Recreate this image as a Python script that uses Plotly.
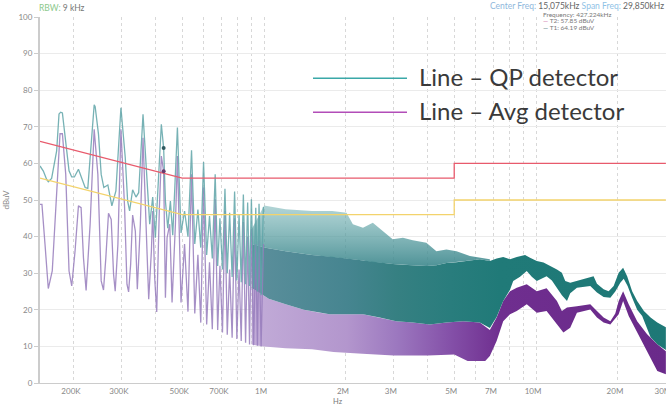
import math
import plotly.graph_objects as go

# ---------------- data (frequency in kHz, level in dBuV) ----------------
# QP detector trace, low-frequency part (individual harmonics)
qp_f = [150, 154.3, 158.7, 160.9, 165.5, 172.7, 176.2, 178.7, 181.3, 185.5, 191.8, 196.2, 200.7,
        207.7, 213.6, 219.8, 224.8, 229.3, 235.9, 237.3, 239.3, 246.1, 251.8, 257.5, 266.4, 275.6,
        285.2, 297.6, 308.7, 315.0, 320.3, 328.6, 338.1, 345.8, 358.8, 371.2, 379.7, 389.5, 398.3,
        419, 427.224, 433.7, 442.4, 452.4, 461.5, 480.1, 495, 510, 525, 541, 556, 571, 585, 599,
        615, 630, 645, 661, 675, 688, 703, 718, 732, 747, 763, 779, 794, 809, 824, 839, 855, 870,
        884, 898, 915, 932, 945, 958, 975, 994]
qp_v = [59.3, 57.9, 55.6, 55.0, 55.9, 63.4, 73.5, 74.0, 73.8, 67.0, 58.0, 56.3, 56.3,
        58.4, 56.0, 53.4, 53.2, 61.6, 75.5, 76.0, 75.5, 68.0, 57.0, 53.4, 54.1, 48.4,
        52.5, 75.2, 61.6, 49.7, 47.0, 52.8, 50.8, 52.0, 73.4, 54.3, 43.4, 50.8, 39.7,
        70.7, 64.19, 49.7, 42.3, 49.7, 40.4, 69.8, 41, 47, 40, 63.6, 38, 47.4, 37, 60.4,
        35, 45.6, 34, 57, 32, 45, 31, 53.1, 30, 46.5, 29, 52.3, 28, 46, 27.5, 51.5, 27, 49.3,
        26.5, 50.2, 26, 47.9, 25, 49, 24, 48.1]

# Average detector trace, low-frequency part
avg_f = [150, 152.5, 156.5, 160.9, 166.4, 172.7, 177.7, 181.3, 186.5, 191.8, 196.2, 201.8, 207.7,
         212.4, 216.7, 221.6, 229.3, 237.3, 244.8, 251.8, 256.8, 261.9, 267.9, 274.1, 279.6, 283.5,
         290.1, 297.6, 307.0, 313.2, 317.6, 323.1, 328.6, 336.2, 341.9, 350.8, 358.8, 368.1, 376.5,
         385.1, 389.5, 396.0, 402.9, 412.1, 419, 427.224, 433.7, 439.8, 449.9, 458.8, 472.0, 480.1,
         495, 510, 525, 541, 556, 571, 585, 599, 615, 630, 645, 661, 675, 688, 703, 718, 732, 747,
         763, 779, 794, 809, 824, 839, 855, 870, 884, 898, 915, 932, 945, 958, 975, 994]
avg_v = [48.8, 48.8, 37.9, 25.8, 30.6, 52.5, 68.1, 68.1, 57.0, 30.6, 26.5, 36.0, 48.4,
         47.9, 34.2, 25.3, 43.4, 69.3, 57.0, 27.9, 25.4, 34.2, 46.4, 44.7, 29.7, 25.1,
         37.9, 69.3, 47.9, 27.0, 24.9, 32.4, 45.9, 41.5, 25.6, 43.4, 67.0, 43.4, 22.9,
         36.0, 47.0, 28.8, 19.4, 47.9, 62.0, 57.85, 23.3, 39.7, 43.4, 22.0, 43.4, 62.0,
         22, 38, 19.5, 57, 19, 35, 16.5, 53.4, 16, 33, 14.7, 50.2, 14.5, 32, 13.8, 47, 13.2, 31,
         12.4, 45, 12, 31, 11.5, 44, 11, 40, 10.5, 42, 10.3, 38, 10.2, 39, 10, 38]

# QP dense region: spike tips and top of the dense core
qp_tip_f = [900, 1000, 1200, 1500, 1780, 2010, 2120, 2310, 2510, 2730, 2970, 3240, 3520, 3950,
            4300, 4680, 5100, 5710, 6210, 6760]
qp_tip_hi = [42, 48.5, 47.5, 47, 47, 46.5, 43.4, 42.4, 43.8, 41.5, 39.3, 39.7, 39, 38.3,
             36, 36.5, 36, 34.7, 34.2, 33.8]
qp_core_hi = [38, 37, 36, 35, 34.5, 34, 33.8, 33.5, 33, 32.8, 32.5, 32.3, 32.2, 32,
              32.2, 32.8, 33, 33.5, 33.8, 33.3]

# QP upper envelope above 7 MHz
qp_env_f = [7160, 7570, 8020, 8490, 9110, 9500, 10060, 10650, 11270, 11930, 12440, 12800, 13350,
            14130, 14950, 15820, 16270, 16740, 17710, 18480, 19280, 20120, 20890, 21620, 22550,
            23530, 24910, 26360, 27900, 30000]
qp_env_hi = [34, 34.4, 33.8, 34.4, 35, 34.2, 33.3, 32.9, 32, 31, 30.1, 27.9, 27.4,
             27.9, 28.3, 28.8, 29.2, 27.1, 25.6, 25.1, 26.5, 30.1, 31.5, 29.2, 25.1,
             22.4, 19.7, 17.9, 16.5, 15.2]

# QP lower envelope
qp_lo_f = [900, 1040, 1200, 1400, 1600, 1740, 2310, 2660, 3060, 3520, 4060, 4680, 5390, 6210,
           6760, 7160, 7570, 8020, 8240, 8730, 9240, 9640, 10060, 10500, 10930, 11430, 11930,
           12440, 12990, 13350, 14130, 15820, 16740, 17710, 18750, 19550, 20400, 21000, 21700,
           22550, 23530, 24550, 26360, 27900, 30000]
qp_lo = [26, 23, 21.5, 20, 19.2, 18.8, 18.8, 17.9, 16.9, 16.5, 16, 16.5, 16.9, 16.5,
         15, 18, 22.4, 25.5, 27.9, 29, 30.6, 29, 27.9, 28.5, 29.2, 28, 26,
         24, 22.4, 24.5, 26, 26.5, 24.7, 23.5, 23.3, 25, 27.4, 28.5, 26.5,
         23.3, 20, 18.3, 12.5, 10.6, 9.0]

# Average detector dense region: upper and lower envelopes
avg_hi_f = [900, 1040, 1200, 1400, 1600, 1740, 2310, 2660, 3060, 3520, 4060, 4680, 5390, 6210,
            6760, 7160, 7570, 8020, 8490, 9240, 10060, 10930, 11930, 12440, 12990, 14130, 15820,
            16740, 17710, 18750, 19550, 20120, 20890, 21900, 23530, 25600, 27900, 30000]
avg_hi = [26, 23, 21.5, 20, 19.2, 18.8, 18.8, 17.9, 16.9, 16.5, 16, 16.5, 16.9, 16.5,
          14.5, 17.9, 22.4, 25.1, 26, 27, 25.1, 25.9, 22.4, 19.7, 20.6, 21, 21.5,
          19.7, 17.9, 16.9, 19, 22.4, 25.1, 21.5, 16.9, 13.3, 10.6, 8.7]
avg_lo_f = [900, 1000, 1200, 1500, 1800, 2300, 3000, 4000, 5000, 5600, 6500, 6760, 7160, 7570,
            8020, 8490, 9240, 10060, 10930, 11930, 12600, 13350, 14130, 15820, 16740, 17710,
            18750, 20120, 20890, 21900, 24200, 26360, 27900, 30000]
avg_lo = [10.5, 10, 9.5, 9.2, 8.5, 8, 7.5, 7.5, 7.8, 6, 6, 7.4, 11.5, 16.9,
          18.8, 19.7, 21.5, 19.2, 19.7, 16, 13.8, 15.1, 19.2, 20.1, 17.9, 16.5,
          16, 18.8, 22.4, 18.3, 12.4, 6.9, 3.3, 2.4]

# Limit lines
limit_f = [150, 500, 5000, 5000, 30000]
qp_limit = [66, 56, 56, 60, 60]
avg_limit = [56, 46, 46, 50, 50]

# Markers
marker_f = [427.224]
marker_t1 = [64.19]
marker_t2 = [57.85]

# Axis ticks
x_tick_vals = [200, 300, 400, 500, 600, 700, 800, 900, 1000, 2000, 3000, 4000, 5000, 6000,
               7000, 8000, 9000, 10000, 20000, 30000]
x_tick_text = ['200K', '300K', '', '500K', '', '700K', '', '', '1M', '2M', '3M', '', '5M', '',
               '7M', '', '', '10M', '20M', '30M']
y_tick_vals = [0, 10, 20, 30, 40, 50, 60, 70, 80, 90, 100]

# ---------------- figure ----------------
fig = go.Figure()

# Average detector dense band
fig.add_trace(go.Scatter(
    x=avg_hi_f + avg_lo_f[::-1], y=avg_hi + avg_lo[::-1],
    mode='lines', line=dict(width=0), fill='toself',
    fillgradient=dict(type='horizontal', colorscale=[
        [0, '#c2acd8'], [0.23, '#b396cd'], [0.35, '#9c78bf'], [0.48, '#8450a8'],
        [0.6, '#6f2e8f'], [1, '#6a2a8a']]),
    hoverinfo='skip'))

# QP dense core band
core_f = qp_tip_f + qp_env_f
core_hi = qp_core_hi + qp_env_hi
fig.add_trace(go.Scatter(
    x=core_f + qp_lo_f[::-1], y=core_hi + qp_lo[::-1],
    mode='lines', line=dict(width=0), fill='toself',
    fillgradient=dict(type='horizontal', colorscale=[
        [0, '#5c8f9c'], [0.23, '#468590'], [0.35, '#368082'], [0.48, '#297d7d'],
        [0.6, '#207a78'], [1, '#1e7876']]),
    hoverinfo='skip'))

# QP spike tips band
fig.add_trace(go.Scatter(
    x=qp_tip_f + qp_tip_f[::-1], y=qp_tip_hi + qp_core_hi[::-1],
    mode='lines', line=dict(width=0), fill='toself',
    fillgradient=dict(type='vertical', colorscale=[
        [0, 'rgba(60,135,140,0.9)'], [1, 'rgba(115,178,180,0.55)']]),
    hoverinfo='skip'))

# Average detector line
fig.add_trace(go.Scatter(x=avg_f, y=avg_v, mode='lines',
                         line=dict(color='rgba(150,125,188,0.85)', width=1.3)))
# QP detector line
fig.add_trace(go.Scatter(x=qp_f, y=qp_v, mode='lines',
                         line=dict(color='rgba(95,165,168,0.85)', width=1.3)))

# Limits
fig.add_trace(go.Scatter(x=limit_f, y=qp_limit, mode='lines',
                         line=dict(color='#e85a6c', width=1.3)))
fig.add_trace(go.Scatter(x=limit_f, y=avg_limit, mode='lines',
                         line=dict(color='#f3d36c', width=1.3)))

# Markers
fig.add_trace(go.Scatter(x=marker_f, y=marker_t1, mode='markers',
                         marker=dict(color='#2f5a60', size=4)))
fig.add_trace(go.Scatter(x=marker_f, y=marker_t2, mode='markers',
                         marker=dict(color='#6a3a6e', size=4)))

PX_L, PX_R, PY_T, PY_B = 40, 666, 17, 383


def px(x):
    return (x - PX_L) / (PX_R - PX_L)


def py(y):
    return (PY_B - y) / (PY_B - PY_T)


annotations = [
    dict(text="<span style='color:#8cc98c'>RBW:</span> 9 kHz", x=px(37), y=py(7.5),
         xanchor='left', yanchor='middle', font=dict(size=8.5, color='#777')),
    dict(text="<span style='color:#8fb8dc'>Center Freq:</span> 15,075kHz "
              "<span style='color:#8fc2e6'>Span Freq:</span> 29,850kHz",
         x=px(666), y=py(6.5), xanchor='right', yanchor='middle',
         font=dict(size=8.5, color='#666')),
    dict(text="Frequency: 427.224kHz", x=px(541), y=py(14), xanchor='left', yanchor='middle',
         font=dict(size=6.5, color='#777')),
    dict(text="<span style='color:#c4609c'>—</span> T2: 57.85 dBuV", x=px(541), y=py(20.5),
         xanchor='left', yanchor='middle', font=dict(size=6.5, color='#777')),
    dict(text="<span style='color:#2f6a70'>—</span> T1: 64.19 dBuV", x=px(541), y=py(27),
         xanchor='left', yanchor='middle', font=dict(size=6.5, color='#777')),
    dict(text="Hz", x=px(338), y=py(401.5), xanchor='center', yanchor='middle',
         font=dict(size=7.5, color='#777')),
    dict(text="Line – QP detector", x=px(417), y=py(77), xanchor='left', yanchor='middle',
         font=dict(family='Lato', size=24, color='#3a3a3a')),
    dict(text="Line – Avg detector", x=px(417), y=py(110.5), xanchor='left', yanchor='middle',
         font=dict(family='Lato', size=24, color='#3a3a3a')),
]
for a in annotations:
    a.update(xref='paper', yref='paper', showarrow=False)

shapes = [
    dict(type='line', xref='paper', yref='paper', x0=px(313), x1=px(407), y0=py(78.3), y1=py(78.3),
         line=dict(color='#3aa8a8', width=1.5)),
    dict(type='line', xref='paper', yref='paper', x0=px(313), x1=px(407), y0=py(112.3), y1=py(112.3),
         line=dict(color='#b24db8', width=1.5)),
]

fig.update_layout(
    width=666, height=407,
    margin=dict(l=PX_L, r=666 - PX_R, t=PY_T, b=407 - PY_B, autoexpand=False),
    plot_bgcolor='white', paper_bgcolor='white', showlegend=False,
    font=dict(family='Lato, sans-serif', size=8, color='#888'),
    annotations=annotations, shapes=shapes,
)
fig.update_xaxes(type='log', range=[math.log10(150), math.log10(30000) + 0.0005],
                 tickmode='array', tickvals=x_tick_vals, ticktext=x_tick_text,
                 ticklabeloverflow='allow', automargin=False, ticklabelshift=-3,
                 showgrid=True, gridcolor='#d8d8d8', griddash='3px,3px', gridwidth=1,
                 showline=True, linecolor='#cccccc', linewidth=1, ticks='',
                 tickfont=dict(size=8, color='#888'), zeroline=False)
fig.update_yaxes(range=[0, 100], tickmode='array', tickvals=y_tick_vals,
                 showgrid=True, gridcolor='#ebebeb', gridwidth=1, automargin=False,
                 showline=True, linecolor='#cccccc', linewidth=2,
                 ticks='outside', ticklen=4, tickcolor='#cccccc',
                 tickfont=dict(size=8, color='#888'), zeroline=False,
                 title=dict(text='dBuV', font=dict(size=8, color='#888'), standoff=8))

fig.write_html("out.html", config={'displayModeBar': False},
               post_script="document.body.style.margin='0';document.body.style.overflow='hidden';")
